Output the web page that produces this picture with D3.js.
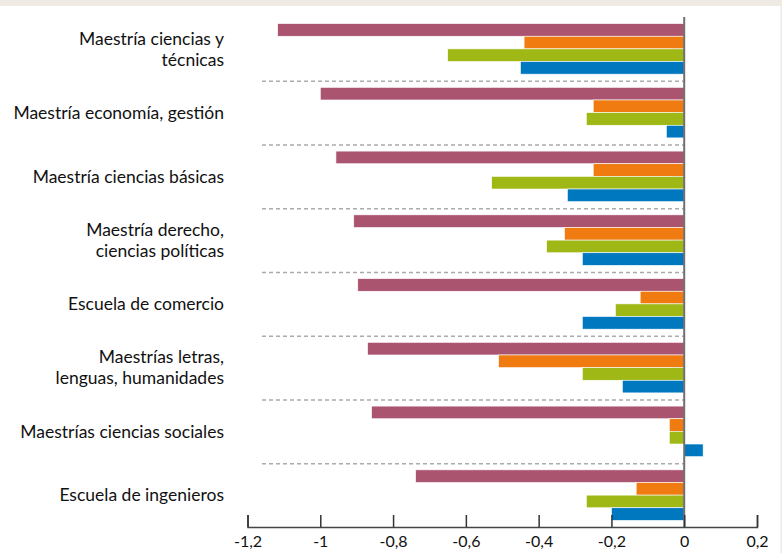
<!DOCTYPE html>
<html>
<head>
<meta charset="utf-8">
<script src="https://cdn.jsdelivr.net/npm/d3@7"></script>
<style>
  body { margin: 0; background: #fff; }
  svg { display: block; }
</style>
</head>
<body>
<svg id="chart" width="782" height="553"></svg>
<script>
// categories, top to bottom
let categories = [
  ['Maestría ciencias y', 'técnicas'],
  ['Maestría economía, gestión'],
  ['Maestría ciencias básicas'],
  ['Maestría derecho,', 'ciencias políticas'],
  ['Escuela de comercio'],
  ['Maestrías letras,', 'lenguas, humanidades'],
  ['Maestrías ciencias sociales'],
  ['Escuela de ingenieros']
];
let seriesNames = ['s1', 's2', 's3', 's4'];
let seriesColors = ['#aa5470', '#ef7b11', '#a0b815', '#0078bf'];

let s1 = [-1.117, -1.0, -0.957, -0.908, -0.897, -0.87, -0.859, -0.738];
let s2 = [-0.44, -0.25, -0.25, -0.329, -0.121, -0.51, -0.041, -0.132];
let s3 = [-0.65, -0.269, -0.529, -0.378, -0.189, -0.28, -0.041, -0.269];
let s4 = [-0.45, -0.049, -0.321, -0.28, -0.28, -0.17, 0.052, -0.2];
let allSeries = [s1, s2, s3, s4];

let tickValues = [-1.2, -1, -0.8, -0.6, -0.4, -0.2, 0, 0.2];

let svg = d3.select('#chart');
let width = 782, height = 553;

// frame
svg.append('rect').attr('x', 0).attr('y', 0).attr('width', width).attr('height', 6).attr('fill', '#efebe4');
svg.append('rect').attr('x', 780.5).attr('y', 0).attr('width', 1.5).attr('height', height).attr('fill', '#efebe4');

let x = d3.scaleLinear().domain([-1.2, 0.2]).range([247.5, 757]);
let catIdx = d3.range(categories.length);
let y = d3.scaleBand().domain(catIdx).range([17, 527]);
let yInner = d3.scaleBand().domain(seriesNames).range([6.6, y.bandwidth() - 6.6]);

// dashed separators
svg.append('g').selectAll('line')
  .data(catIdx.slice(1))
  .enter().append('line')
  .attr('x1', 262).attr('x2', x(0))
  .attr('y1', d => y(d) + 0.5).attr('y2', d => y(d) + 0.5)
  .attr('stroke', '#ababab')
  .attr('stroke-width', 1.5)
  .attr('stroke-dasharray', '4,3');

// category ticks on zero axis (mostly hidden behind bars)
svg.append('g').selectAll('line')
  .data(catIdx)
  .enter().append('line')
  .attr('x1', x(0) - 12).attr('x2', x(0))
  .attr('y1', d => y(d) + y.bandwidth() / 2).attr('y2', d => y(d) + y.bandwidth() / 2)
  .attr('stroke', '#333').attr('stroke-width', 1.5);

// bars
let groups = svg.append('g').selectAll('g')
  .data(catIdx)
  .enter().append('g')
  .attr('transform', d => 'translate(0,' + y(d) + ')');

groups.selectAll('rect')
  .data(function(ci){
    return seriesNames.map((s, si) => ({s: s, si: si, v: allSeries[si][ci]}));
  })
  .enter().append('rect')
  .attr('x', d => x(Math.min(0, d.v)))
  .attr('width', d => Math.abs(x(d.v) - x(0)))
  .attr('y', d => yInner(d.s))
  .attr('height', yInner.bandwidth())
  .attr('fill', d => seriesColors[d.si])
  .attr('stroke', '#fff')
  .attr('stroke-width', 0.6);

// zero line
svg.append('line')
  .attr('x1', x(0)).attr('x2', x(0))
  .attr('y1', 17).attr('y2', 527)
  .attr('stroke', '#707070').attr('stroke-width', 2);

// x axis
let xAxis = d3.axisBottom(x)
  .tickValues(tickValues)
  .tickSize(-12)
  .tickPadding(9)
  .tickFormat(d => String(d).replace('.', ','));

let gx = svg.append('g')
  .attr('transform', 'translate(0,527)')
  .call(xAxis);
gx.select('.domain').attr('stroke', '#444').attr('stroke-width', 1.5);
gx.selectAll('.tick line').attr('stroke', '#333').attr('stroke-width', 1.5);
gx.selectAll('.tick text')
  .attr('fill', '#111')
  .style('font-family', 'Lato, sans-serif')
  .style('font-size', '16px');

// category labels
let labels = svg.append('g').selectAll('text')
  .data(catIdx)
  .enter().append('text')
  .attr('text-anchor', 'end')
  .attr('fill', '#111')
  .style('font-family', 'Lato, sans-serif')
  .style('font-size', '17.5px')
  .attr('transform', d => 'translate(224,' + (y(d) + y.bandwidth() / 2) + ')');

labels.each(function(ci){
  let lines = categories[ci];
  let t = d3.select(this);
  let lh = 21;
  lines.forEach(function(line, i){
    t.append('tspan')
      .attr('x', 0)
      .attr('y', (i - (lines.length - 1) / 2) * lh)
      .attr('dy', '0.35em')
      .text(line);
  });
});
</script>
</body>
</html>
